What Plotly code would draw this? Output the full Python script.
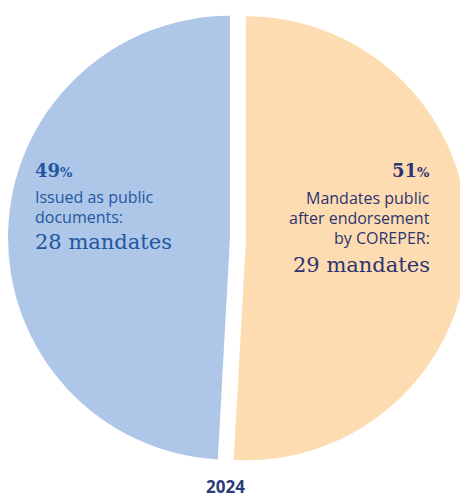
import plotly.graph_objects as go

categories = ["Mandates public after endorsement by COREPER", "Issued as public documents"]
values = [29, 28]
colors = ["#fddcb2", "#aec6e8"]
text_colors = ["#2d346f", "#2356a0"]
desc_lines = [["Mandates public", "after endorsement", "by COREPER:"], ["Issued as public", "documents:"]]
year_label = "2024"

# the page body has an 8px margin: the figure fills the rest of the window
OFF = 8
W, H = 468 - OFF, 497 - OFF
total = sum(values)

fig = go.Figure(go.Pie(
    labels=categories,
    values=values,
    marker=dict(colors=colors, line=dict(width=0)),
    sort=False,
    direction="clockwise",
    rotation=0,
    pull=[0.036, 0.036],
    textinfo="none",
    hoverinfo="label+value+percent",
    domain=dict(x=[0, 1], y=[1 - 460 / H, 1]),
    showlegend=False,
))

def px_(xpx):
    return (xpx - OFF) / W

def py(ypx):
    return 1 - (ypx - OFF) / H

serif = "DejaVu Serif, Liberation Serif, serif"
sans = "Open Sans, Noto Sans, sans-serif"
ann = []
specs = [
    dict(x=px_(432), anchor="right", ys=[170, 198, 218, 238], ym=265),
    dict(x=px_(33), anchor="left", ys=[170, 197, 217], ym=242),
]
for i, s in enumerate(specs):
    pct = round(values[i] / total * 100)
    c = text_colors[i]
    ann.append(dict(x=s["x"], y=py(s["ys"][0]), xref="paper", yref="paper",
                    xanchor=s["anchor"], yanchor="middle", showarrow=False,
                    text=f"<b>{pct}</b><span style='font-size:13px'><b>%</b></span>",
                    font=dict(family=serif, size=18, color=c)))
    for j, line in enumerate(desc_lines[i]):
        ann.append(dict(x=s["x"], y=py(s["ys"][j + 1]), xref="paper", yref="paper",
                        xanchor=s["anchor"], yanchor="middle", showarrow=False,
                        text=line, font=dict(family=sans, size=16, color=c)))
    ann.append(dict(x=s["x"], y=py(s["ym"]), xref="paper", yref="paper",
                    xanchor=s["anchor"], yanchor="middle", showarrow=False,
                    text=f"{values[i]} mandates",
                    font=dict(family=serif, size=21, color=c)))

ann.append(dict(x=px_(225), y=py(486), xref="paper", yref="paper",
                xanchor="center", yanchor="middle", showarrow=False,
                text=f"<b>{year_label}</b>",
                font=dict(family=sans, size=17, color="#2b3c78")))

fig.update_layout(
    width=W, height=H,
    margin=dict(l=0, r=0, t=0, b=0),
    paper_bgcolor="white", plot_bgcolor="white",
    annotations=ann,
)

fig.write_html("out.html")
